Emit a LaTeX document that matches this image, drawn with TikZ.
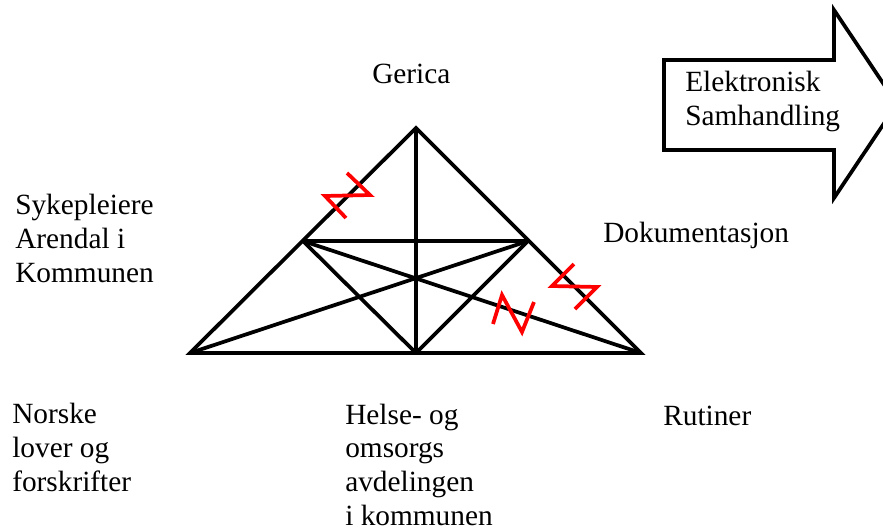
\documentclass[tikz,border=0pt]{standalone}
\usepackage{fontspec}
\setmainfont{Liberation Serif}
\begin{document}
\begin{tikzpicture}[x=0.75pt,y=-0.75pt,
  edge/.style={line width=2.8pt,black},
  bolt/.style={line width=2.8pt,red},
  lbl/.style={anchor=base west,align=left,inner sep=0pt,font=\fontsize{22}{25.2}\selectfont}]
\useasboundingbox (0,0) rectangle (883,529);
\clip (0,0) rectangle (883,529);
% triangle points
\coordinate (A) at (416,128);
\coordinate (BL) at (190,353);
\coordinate (BR) at (641,353);
\coordinate (ML) at (303,241);
\coordinate (MR) at (528,241);
\coordinate (MB) at (416,353);
\draw[edge,line join=miter] (A) -- (BR) -- (BL) -- cycle;
\draw[edge] (ML) -- (MR);
\draw[edge] (A) -- (MB);
\draw[edge] (BL) -- (MR);
\draw[edge] (BR) -- (ML);
\draw[edge] (ML) -- (MB);
\draw[edge] (MR) -- (MB);
% red bolts
\draw[bolt] (346,218) -- (325,196) -- (370,195) -- (347,173);
\draw[bolt] (493,324) -- (502,295) -- (522,332) -- (534,302);
\draw[bolt] (574,264) -- (552,286) -- (597,287) -- (575,309);
% arrow
\draw[line width=2.8pt,line join=miter] (664,60) -- (834,60) -- (834,10) -- (897,104) -- (834,198) -- (834,150) -- (664,150) -- cycle;
\node[lbl] (el) at (685,125) {Elektronisk\\Samhandling};
% labels
\node[lbl] (ger) at (372,83) {Gerica};
\node[lbl] (syk) at (15,282) {Sykepleiere\\Arendal i\\Kommunen};
\node[lbl] (dok) at (603,242) {Dokumentasjon};
\node[lbl] (nor) at (12,491) {Norske\\lover og\\forskrifter};
\node[lbl] (hel) at (345,525) {Helse- og\\omsorgs\\avdelingen\\i kommunen};
\node[lbl] (rut) at (663,425) {Rutiner};
\end{tikzpicture}
\end{document}
